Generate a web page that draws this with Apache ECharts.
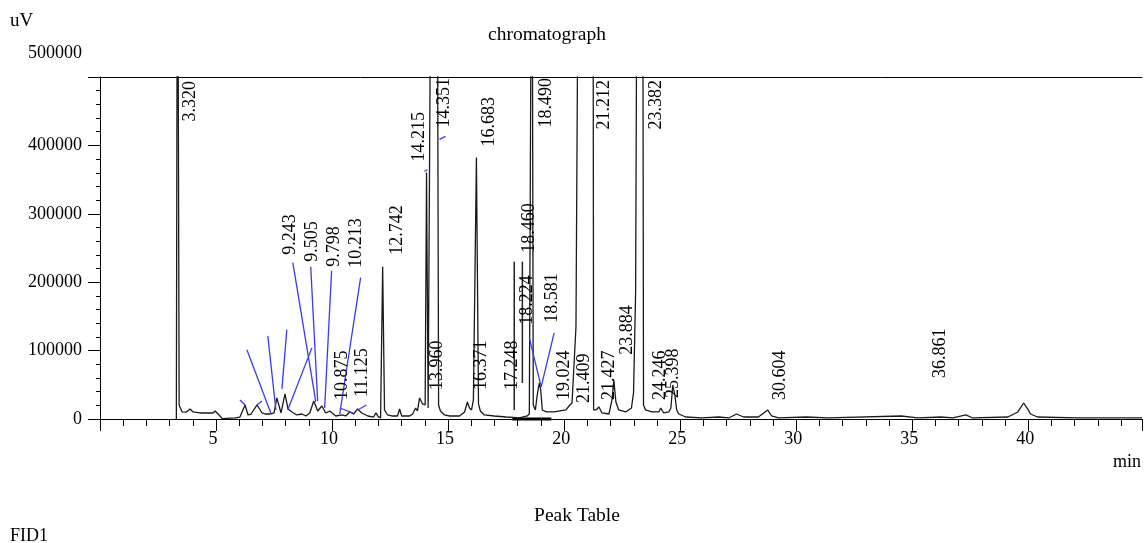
<!DOCTYPE html>
<html>
<head>
<meta charset="utf-8">
<script src="https://cdn.jsdelivr.net/npm/echarts@6/dist/echarts.min.js"></script>
<style>
html,body{margin:0;padding:0;background:#fff;}
#chart{width:1145px;height:543px;}
</style>
</head>
<body>
<div id="chart"></div>
<script>
// ---- data ----
const xTicks = [5, 10, 15, 20, 25, 30, 35, 40];
const yTicks = [0, 100000, 200000, 300000, 400000, 500000];

// chromatogram trace: [retention time (min), signal (uV)]
const trace = [
  [3.29,0],[3.34,900000],[3.41,20000],[3.54,10300],[3.71,10000],[3.88,14700],[4.01,10300],
  [4.31,8800],[4.87,8800],[4.96,11700],[5.09,7300],[5.27,500],[5.82,1500],[6.03,2900],
  [6.25,20500],[6.38,5900],[6.51,7300],[6.77,20500],[6.98,8800],[7.11,7300],[7.32,7300],
  [7.50,8800],[7.62,30800],[7.80,8800],[7.97,36600],[8.10,14700],[8.27,10300],[8.48,5900],
  [8.70,7300],[8.87,4400],[9.04,8800],[9.21,26400],[9.38,11700],[9.56,19000],[9.73,8800],
  [9.90,11700],[10.16,4400],[10.42,5900],[10.59,4400],[10.76,10300],[10.93,7300],[11.10,14700],
  [11.28,8800],[11.54,4400],[11.79,2900],[11.89,9000],[11.99,3500],[12.09,1500],[12.18,222700],
  [12.26,13200],[12.39,5900],[12.57,4400],[12.82,4400],[12.91,14700],[13.00,4400],[13.34,4400],
  [13.47,7300],[13.60,16100],[13.68,11700],[13.77,30800],[13.90,22000],[14.01,20500],[14.07,360400],
  [14.14,16100],[14.20,13200],[14.29,900000],[14.52,900000],[14.59,20500],[14.67,11700],[14.84,5900],
  [15.06,4400],[15.49,4400],[15.71,10300],[15.83,24900],[15.92,16100],[16.01,13200],[16.09,28000],
  [16.22,382400],[16.31,22000],[16.39,11700],[16.56,5900],[16.99,4400],[17.51,2900],[18.07,1500],
  [18.41,4400],[18.50,7300],[18.61,900000],[18.67,20500],[18.76,13200],[18.84,35000],[18.93,52700],
  [18.99,42500],[19.06,13200],[19.23,10300],[19.57,10300],[20.08,13200],[20.21,19000],[20.34,23400],
  [20.51,134800],[20.64,900000],[21.24,900000],[21.27,13200],[21.37,13200],[21.50,17600],[21.63,8800],
  [21.93,7300],[22.06,27800],[22.14,57100],[22.23,24900],[22.35,13200],[22.65,10300],[22.90,16100],
  [22.99,38100],[23.08,184600],[23.16,900000],[23.38,900000],[23.42,20500],[23.51,13200],[23.78,10300],
  [24.08,10300],[24.16,16100],[24.29,8800],[24.51,10300],[24.60,16100],[24.68,49800],[24.77,35000],
  [24.85,13200],[24.94,7300],[25.24,2900],[25.93,1500],[26.66,2900],[27.09,1500],[27.43,7300],
  [27.73,2900],[28.37,2900],[28.77,13200],[28.94,4400],[29.24,1500],[30.43,2900],[31.38,1500],
  [34.52,4400],[35.25,1500],[36.24,2900],[36.75,1500],[37.31,5900],[37.61,1500],[39.12,2900],
  [39.55,10300],[39.80,23400],[39.97,14700],[40.10,7300],[40.40,2900],[42.12,1500],[44.9,1500]
];

// peak annotations: text, anchor position [min, uV]
const peakNames = ["3.320","9.243","9.505","9.798","10.213","10.875","11.125","12.742","13.960",
  "14.215","14.351","16.371","16.683","17.248","18.224","18.460","18.490","18.581","19.024",
  "21.409","21.212","21.427","23.884","23.382","24.246","25.398","30.604","36.861"];
const peakAnchors = [
  [3.88,435100],[8.18,240300],[9.13,230000],[10.11,222700],[11.06,221200],[10.42,27800],[11.32,32200],
  [12.82,240300],[14.54,42500],[13.77,376500],[14.84,426300],[16.43,42500],[16.78,398500],[17.77,42500],
  [18.41,137700],[18.50,243200],[19.23,426300],[19.49,140600],[19.99,27800],[20.85,23400],[21.71,423400],
  [21.93,27800],[22.74,93800],[23.95,423400],[24.16,27800],[24.72,30800],[29.32,27800],[36.19,60100]
];

// blue leader lines: [t1, v1, t2, v2]
const leaderLines = [
  [6.33,101100,7.36,8800],[7.23,121600,7.58,13200],[8.05,130400,7.84,44000],[9.13,104000,8.09,13200],
  [8.31,228500,9.30,24900],[9.08,222700,9.38,26400],[9.98,216800,9.68,16100],[11.23,206600,10.33,7300],
  [6.03,27800,6.25,20500],[6.76,20500,6.98,26400],[10.33,16100,10.89,8800],[11.10,13200,11.49,20500],
  [13.98,361900,14.11,364800],[14.63,408700,14.89,413100],[18.50,118700,19.01,46900],[19.57,126000,19.01,46900]
];
// black marker lines: [t1, v1, t2, v2]
const markerLines = [[17.85,230000,17.85,13200],[18.20,230000,18.20,52700]];
const baselineBars = [[17.77,0,19.45,0]];

// ---- chart ----
const FONT = '"Liberation Serif","Times New Roman",serif';
const chart = echarts.init(document.getElementById('chart'), null, {renderer:'canvas'});

function segRender(color, width) {
  return function (params, api) {
    const a = api.coord([api.value(0), api.value(1)]);
    const b = api.coord([api.value(2), api.value(3)]);
    return {type:'line', shape:{x1:a[0],y1:a[1],x2:b[0],y2:b[1]}, style:{stroke:color, lineWidth:width}};
  };
}

const option = {
  animation: false,
  grid: {left: 100, right: 0, top: 77, bottom: 124},
  xAxis: [
    {type:'value', min:0, max:44.9, interval:5, position:'bottom',
     axisLine:{show:true, lineStyle:{color:'#000', width:1}},
     axisTick:{show:true, length:12, lineStyle:{color:'#000'}},
     axisLabel:{margin:11, color:'#000', fontSize:18, fontFamily:FONT, padding:[0,6,0,0],
       formatter: v => xTicks.indexOf(v) >= 0 ? String(v) : ''},
     splitLine:{show:false}},
    {type:'value', min:0, max:44.9, interval:1, position:'bottom',
     axisLine:{show:false}, axisTick:{show:true, length:7, lineStyle:{color:'#000'}},
     axisLabel:{show:false}, splitLine:{show:false}},
    {type:'value', min:0, max:44.9, position:'top',
     axisLine:{show:true, lineStyle:{color:'#000', width:1}}, axisTick:{show:false},
     axisLabel:{show:false}, splitLine:{show:false}}
  ],
  yAxis: {type:'value', min:0, max:500000, interval:100000,
    axisLine:{show:true, lineStyle:{color:'#000'}},
    axisTick:{show:true, length:12, lineStyle:{color:'#000'}},
    minorTick:{show:true, splitNumber:5, length:4, lineStyle:{color:'#000'}},
    axisLabel:{margin:18, color:'#000', fontSize:18, fontFamily:FONT, padding:[0,0,8,0],
      formatter: v => (v === 500000 ? '' : String(v))},
    splitLine:{show:false}},
  graphic: [
    {type:'text', left:10, top:12, style:{text:'uV', fontSize:19, fontFamily:FONT, fill:'#000'}},
    {type:'text', x:82, y:53, style:{text:String(yTicks[5]), fontSize:18, fontFamily:FONT, fill:'#000', textAlign:'right', textVerticalAlign:'middle'}},
    {type:'text', x:547, y:35, style:{text:'chromatograph', fontSize:19.5, fontFamily:FONT, fill:'#000', textAlign:'center', textVerticalAlign:'middle'}},
    {type:'text', x:1113, y:462, style:{text:'min', fontSize:18, fontFamily:FONT, fill:'#000', textAlign:'left', textVerticalAlign:'middle'}},
    {type:'text', x:577, y:516, style:{text:'Peak Table', fontSize:19.5, fontFamily:FONT, fill:'#000', textAlign:'center', textVerticalAlign:'middle'}},
    {type:'text', x:10, y:536, style:{text:'FID1', fontSize:18, fontFamily:FONT, fill:'#000', textAlign:'left', textVerticalAlign:'middle'}}
  ],
  series: [
    {type:'custom', xAxisIndex:0, clip:false, data:baselineBars, encode:{x:[0,2], y:[1,3]},
     renderItem: segRender('#000', 3), silent:true, z:3},
    {type:'line', xAxisIndex:0, data:trace, showSymbol:false, symbol:'none', clip:true,
     lineStyle:{color:'#1a1a1a', width:1.3}, z:4},
    {type:'custom', xAxisIndex:0, clip:false, data:markerLines, encode:{x:[0,2], y:[1,3]},
     renderItem: segRender('#222', 1.5), silent:true, z:5},
    {type:'custom', xAxisIndex:0, clip:false, data:leaderLines, encode:{x:[0,2], y:[1,3]},
     renderItem: segRender('#3a3aef', 1.3), silent:true, z:5},
    {type:'custom', xAxisIndex:0, clip:false, data:peakAnchors, encode:{x:0, y:1},
     renderItem: function (params, api) {
       const p = api.coord([api.value(0), api.value(1)]);
       return {type:'text', x:p[0], y:p[1], rotation:Math.PI/2,
         style:{text:peakNames[params.dataIndex], fontSize:18, fontFamily:FONT, fill:'#000',
                textAlign:'left', textVerticalAlign:'middle'}};
     }, silent:true, z:6}
  ]
};
chart.setOption(option);
</script>
</body>
</html>
